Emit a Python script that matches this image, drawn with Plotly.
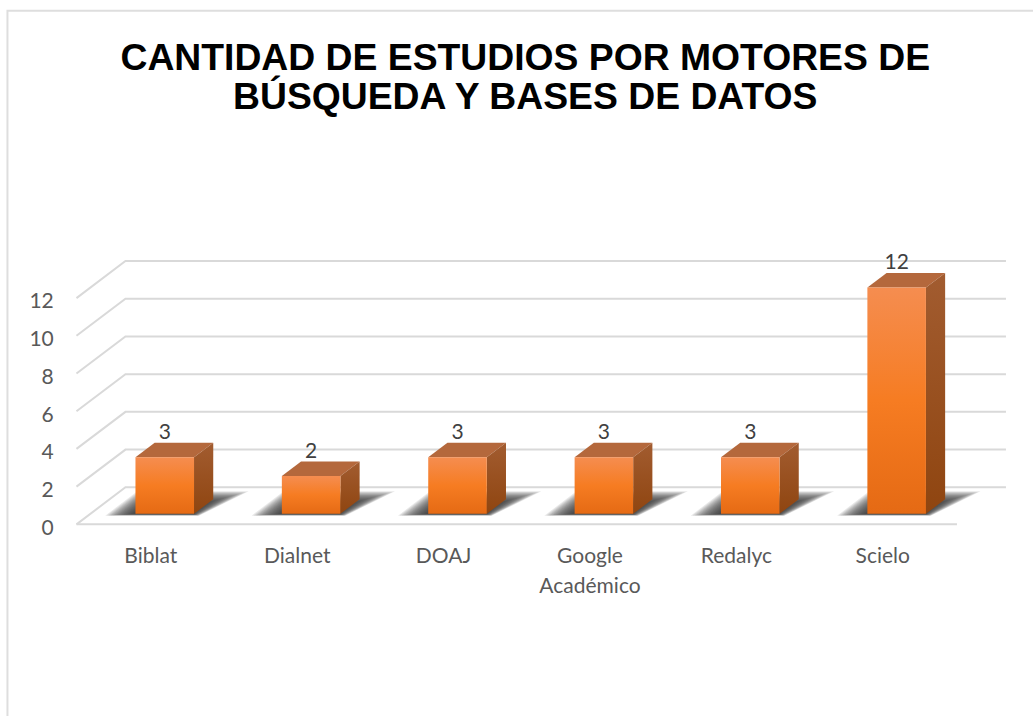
import plotly.graph_objects as go

categories = ["Biblat", "Dialnet", "DOAJ", "Google<br>Académico", "Redalyc", "Scielo"]
values = [3, 2, 3, 3, 3, 12]
y_ticks = [0, 2, 4, 6, 8, 10, 12]
title_lines = ["CANTIDAD DE ESTUDIOS POR MOTORES DE", "BÚSQUEDA Y BASES DE DATOS"]

W, H = 1033, 716
PX_X, PX_Y = 146.4, 18.83          # pixels per category / per value
X0_PX, Y0_PX = 150.4, 524.0        # pixel of category 0 / value 0 on the front plane
DEPTH_X, DEPTH_Y = 49 / PX_X, 37 / PX_Y   # oblique projection of the full floor depth
D0, D1 = 0.284, 0.676              # front and back of each bar inside the floor depth
HALF = 0.2                         # half a bar width
GRID_L, GRID_R = -0.508, 5.507
LABEL_DROP = 0.08

xr = [-0.6, 5.842]
yr = [-0.3, 14.55]
l = X0_PX + xr[0] * PX_X
r = W - (X0_PX + xr[1] * PX_X)
b = H - (Y0_PX - yr[0] * PX_Y)
t = Y0_PX - yr[1] * PX_Y


def proj(x, v, d):
    return x + d * DEPTH_X, v + d * DEPTH_Y


def poly(pts, **kw):
    xs, ys = zip(*[proj(*p) for p in pts + pts[:1]])
    return go.Scatter(x=xs, y=ys, mode="lines", fill="toself", line=dict(width=0),
                      hoverinfo="skip", showlegend=False, **kw)


fig = go.Figure()

# Walls and floor gridlines
for v in y_ticks:
    xs, ys = zip(proj(GRID_L, v, 0), proj(GRID_L, v, 1), proj(GRID_R, v, 1))
    fig.add_trace(go.Scatter(x=xs, y=ys, mode="lines", line=dict(color="#d9d9d9", width=2),
                             hoverinfo="skip", showlegend=False))
xs, ys = zip(proj(GRID_L, 0, 0), proj(GRID_R, 0, 0))
fig.add_trace(go.Scatter(x=xs, y=ys, mode="lines", line=dict(color="#d9d9d9", width=2),
                         hoverinfo="skip", showlegend=False))

# Soft floor shadows, stacked from wide and faint to tight
steps = 18
for i, v in enumerate(values):
    for s in range(steps):
        g = s / (steps - 1)
        xl = i - 0.39 + g * 0.20
        xr_front = i + 0.25 - g * 0.06
        xr_back = i + 0.37 - g * 0.20
        d_a = 0.235 + g * 0.05
        d_b = 0.89 - g * 0.34
        fig.add_trace(poly([(xl, 0, d_a), (xr_front, 0, d_a), (xr_back, 0, d_b), (xl, 0, d_b)],
                           fillcolor="rgba(45,45,45,0.11)"))

# Bars: three visible faces projected from each value
for i, v in enumerate(values):
    a, c = i - HALF, i + HALF
    fig.add_trace(poly([(a, v, D0), (c, v, D0), (c, v, D1), (a, v, D1)], fillcolor="#b4683c"))
    fig.add_trace(poly([(c, 0, D0), (c, 0, D1), (c, v, D1), (c, v, D0)],
                       fillcolor="#9a5020",
                       fillgradient=dict(type="vertical",
                                         colorscale=[[0, "#8f4510"], [1, "#a25c30"]])))
    fig.add_trace(poly([(a, 0, D0), (c, 0, D0), (c, v, D0), (a, v, D0)],
                       fillcolor="#f57c22",
                       fillgradient=dict(type="vertical",
                                         colorscale=[[0, "#e56a14"], [0.5, "#f67c22"], [1, "#f58d50"]])))

# Data labels
lab = [proj(i, v, D1) for i, v in enumerate(values)]
fig.add_trace(go.Scatter(
    x=[i + D0 * DEPTH_X for i in range(len(values))], y=[p[1] - LABEL_DROP for p in lab],
    mode="text", text=[str(v) for v in values], textposition="top center",
    textfont=dict(family="Lato", size=21, color="#404040"),
    hoverinfo="skip", showlegend=False, cliponaxis=False))

small = 'font-size:21px'
fig.update_layout(
    width=W, height=H, autosize=False,
    paper_bgcolor="white", plot_bgcolor="white",
    margin=dict(l=l, r=r, t=t, b=b, autoexpand=False),
    showlegend=False,
    title=dict(
        text="<br>".join(f'<span style="font-size:37.3px">{s}</span>' for s in title_lines),
        x=0.5085, xanchor="center", y=0.9018, yanchor="middle",
        font=dict(family="Liberation Sans", size=30, color="black", weight=700),
    ),
    xaxis=dict(range=xr, tickmode="array", tickvals=list(range(len(categories))),
               ticktext=["<br>".join(f'<span style="{small}">{p}</span>' for p in c.split("<br>"))
                         for c in categories],
               tickangle=0, showgrid=False, zeroline=False, showline=False,
               ticks="outside", ticklen=4, tickcolor="rgba(0,0,0,0)",
               tickfont=dict(family="Lato", size=23, color="#595959")),
    yaxis=dict(range=yr, tickmode="array", tickvals=y_ticks,
               showgrid=False, zeroline=False, showline=False,
               ticks="outside", ticklen=4, tickcolor="rgba(0,0,0,0)", ticklabelshift=3,
               tickfont=dict(family="Lato", size=21, color="#595959")),
    shapes=[dict(type="rect", xref="paper", yref="paper",
                 x0=(7 - l) / (W - l - r), x1=1.1,
                 y0=-1, y1=(H - b - 11) / (H - t - b),
                 line=dict(color="#dedede", width=2), fillcolor="rgba(0,0,0,0)", layer="below")],
)

fig.write_html("out.html", config=dict(displayModeBar=False),
               post_script="document.body.style.margin='0';document.body.style.overflow='hidden';")
